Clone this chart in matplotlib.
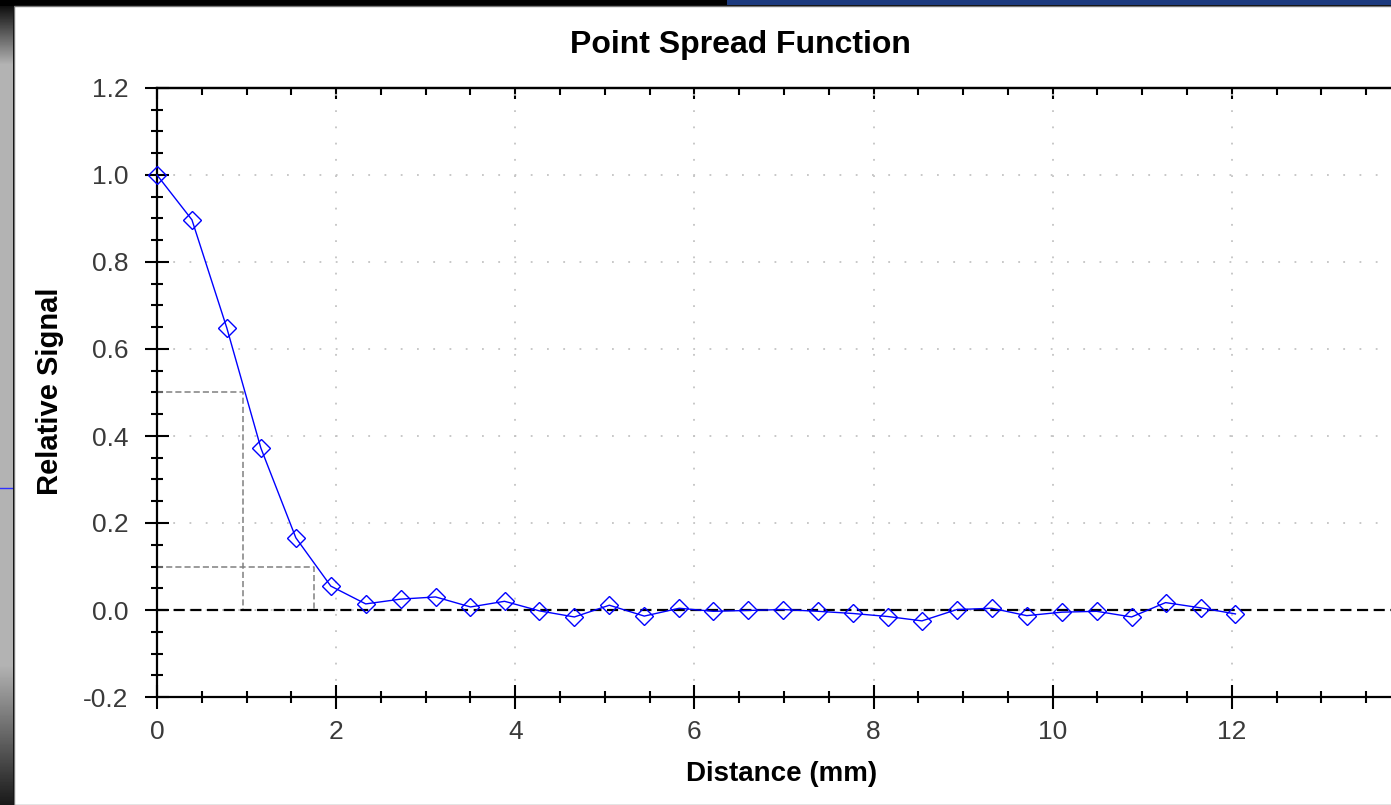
import numpy as np
import matplotlib.pyplot as plt
from matplotlib.patches import Rectangle
from matplotlib.ticker import MultipleLocator, FuncFormatter

# =========================
# Data
# =========================
distance = [0.00, 0.39, 0.78, 1.16, 1.55, 1.94, 2.33, 2.72, 3.11, 3.50, 3.88,
            4.27, 4.66, 5.05, 5.44, 5.83, 6.21, 6.60, 6.99, 7.38, 7.77, 8.16,
            8.54, 8.93, 9.32, 9.71, 10.10, 10.49, 10.88, 11.26, 11.65, 12.04]
signal = [1.000, 0.897, 0.648, 0.372, 0.166, 0.055, 0.014, 0.025, 0.030, 0.007,
          0.020, -0.002, -0.016, 0.011, -0.014, 0.004, -0.003, -0.001, 0.001,
          -0.003, -0.008, -0.015, -0.025, 0.001, 0.004, -0.013, -0.005, -0.003,
          -0.016, 0.017, 0.005, -0.009]

# half max / tenth max markers
ref_levels = [0.5, 0.1]
ref_widths = [0.96, 1.75]

# =========================
# Figure / background
# =========================
W, H = 1391, 805
fig = plt.figure(figsize=(W / 100, H / 100), dpi=100, facecolor="black")
plt.rcParams["font.family"] = ["Liberation Sans", "DejaVu Sans"]
tick_font = ["Liberation Sans Narrow", "Liberation Sans", "DejaVu Sans"]

# white panel
fig.patches.append(Rectangle((14 / W, 0), 1, 1 - 6 / H, transform=fig.transFigure,
                             facecolor="white", edgecolor="#777777", lw=1, zorder=-10))
# blue band on top right
fig.patches.append(Rectangle((727 / W, 1 - 5 / H), 1, 5 / H, transform=fig.transFigure,
                             facecolor="#1c3a7e", edgecolor="none", zorder=-10))
# grey gradient strip on the left
strip = fig.add_axes([0, 0, 13 / W, 1 - 6 / H])
grad = np.concatenate([np.linspace(0.05, 0.7, 60), np.full(600, 0.7), np.linspace(0.7, 0.1, 140)])
strip.imshow(grad[:, None], cmap="gray", vmin=0, vmax=1, aspect="auto")
strip.axhline(482, color="#3030ff", lw=1)
strip.axis("off")

# =========================
# Plot
# =========================
ax = fig.add_axes([157 / W, 1 - 697 / H, (1411 - 157) / W, (697 - 88) / H])
ax.set_facecolor("none")
ax.set_zorder(5)

ax.plot(distance, signal, color="#0000ff", lw=1.0, marker="D", markersize=9.5,
        markerfacecolor="none", markeredgecolor="#0000ff", markeredgewidth=1.0,
        zorder=5, clip_on=False)

ax.axhline(0, color="black", lw=1.6, ls=(0, (5, 2.5)), zorder=3)
for lvl, w in zip(ref_levels, ref_widths):
    ax.plot([0, w, w], [lvl, lvl, 0], color="#808080", lw=1.1, ls=(0, (4, 2)), zorder=2)

# =========================
# Axes and labels
# =========================
ax.set_xlim(0, 14)
ax.set_ylim(-0.2, 1.2)
ax.xaxis.set_major_locator(MultipleLocator(2))
ax.xaxis.set_minor_locator(MultipleLocator(0.5))
ax.yaxis.set_major_locator(MultipleLocator(0.2))
ax.yaxis.set_minor_locator(MultipleLocator(0.05))
ax.xaxis.set_major_formatter(FuncFormatter(lambda v, p: "" if v > 12.5 else f"{v:.0f}"))
ax.yaxis.set_major_formatter(FuncFormatter(lambda v, p: f"{v:.1f}".replace("-0.0", "0.0")))

ax.grid(True, which="major", color="#c4c4c4", lw=1.3, ls=(0, (1, 8)))

for s in ["left", "bottom", "top"]:
    ax.spines[s].set_linewidth(1.6)
ax.spines["right"].set_visible(False)

ax.tick_params(axis="both", which="major", direction="inout", length=17, width=1.5,
               labelsize=19, labelcolor="#3a3a3a")
ax.tick_params(axis="both", which="minor", direction="inout", length=9, width=1.5)
ax.tick_params(axis="x", pad=8)
ax.tick_params(axis="y", pad=12)
for lab in ax.get_xticklabels() + ax.get_yticklabels():
    lab.set_family(tick_font)

top = ax.secondary_xaxis("top")
top.xaxis.set_major_locator(MultipleLocator(2))
top.xaxis.set_minor_locator(MultipleLocator(0.5))
top.tick_params(which="major", direction="in", length=8, width=1.5, labeltop=False)
top.tick_params(which="minor", direction="in", length=5, width=1.5)
top.spines["top"].set_linewidth(1.6)

fig.text(740 / W, 1 - 45 / H, "Point Spread Function", ha="center", va="center",
         fontsize=23, fontweight="bold")
fig.text(782 / W, 1 - 774 / H, "Distance (mm)", ha="center", va="center",
         fontsize=20, fontweight="bold")
fig.text(50 / W, 1 - 391 / H, "Relative Signal", ha="center", va="center",
         rotation=90, fontsize=21, fontweight="bold")

# =========================
# Save
# =========================
plt.savefig("out.png", dpi=100, facecolor=fig.get_facecolor())
